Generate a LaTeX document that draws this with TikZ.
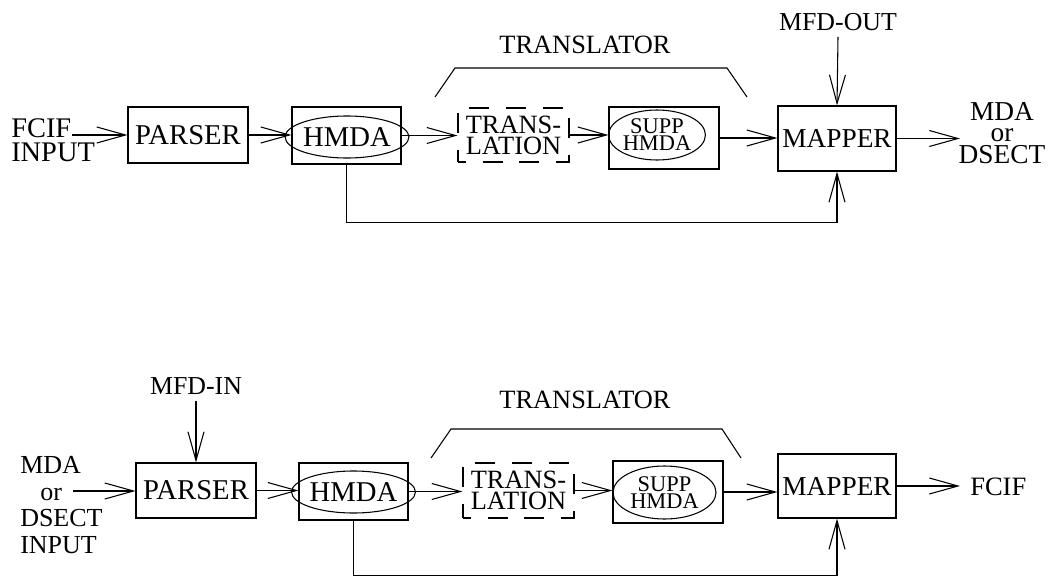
\documentclass[tikz,border=0pt]{standalone}
\usepackage{fontspec}
\setmainfont{Liberation Serif}
\usetikzlibrary{arrows.meta,shapes.geometric,calc}
\tikzset{
  base/.style={line width=0.8pt},
  arr/.style={base,-{Straight Barb[length=21.5pt,width=12pt,line width=0.8pt]}},
  boxnode/.style={draw,base,rectangle,inner sep=0pt},
  dbox/.style={draw,base,rectangle,inner sep=0pt,dash pattern=on 15pt off 12.5pt,dash phase=9pt},
  ell/.style={draw,base,ellipse,inner sep=0pt},
  big/.style={font=\fontsize{21.5}{20}\selectfont},
  tfont/.style={font=\fontsize{19.8}{15.75}\selectfont},
  sfont/.style={font=\fontsize{16.8}{12.75}\selectfont},
  lbl/.style={inner sep=0pt},
}
\begin{document}
\begin{tikzpicture}[x=0.75pt,y=-0.75pt]
\useasboundingbox (0,0) rectangle (1049,578);

% ---------------- TOP DIAGRAM ----------------
\node[lbl,align=left,anchor=west,font=\fontsize{21.3}{18}\selectfont] (fcifin) at (11,140) {FCIF\\INPUT};
\coordinate (in1) at (72,135);
\node[boxnode,big,minimum width=120*0.75pt,minimum height=56*0.75pt] (parser1) at (188,135) {PARSER};
\node[boxnode,minimum width=109*0.75pt,minimum height=57*0.75pt] (hmda1) at (346.5,135.5) {};
\node[ell,big,minimum width=104*0.75pt,minimum height=42*0.75pt] (hmdae1) at (347,137) {HMDA};
\node[dbox,align=center,tfont,minimum width=111*0.75pt,minimum height=54*0.75pt] (trans1) at (513.5,135) {TRANS-\\LATION};
\node[boxnode,minimum width=110*0.75pt,minimum height=62*0.75pt] (supp1) at (664,138) {};
\node[ell,align=center,sfont,minimum width=95*0.75pt,minimum height=50*0.75pt] (suppe1) at (657,135) {SUPP\\HMDA};
\node[boxnode,font=\fontsize{20.5}{20}\selectfont,minimum width=118*0.75pt,minimum height=65*0.75pt] (mapper1) at (837,138.5) {MAPPER};
\node[lbl,font=\fontsize{19.4}{20}\selectfont] (mfdout) at (838,22) {MFD-OUT};
\node[lbl,align=center,font=\fontsize{20.5}{16}\selectfont] (out1) at (1002,133) {MDA\\or\\DSECT};
\coordinate (o1) at (960,136);
\node[lbl,font=\fontsize{19.8}{20}\selectfont] (tr1) at (585,45) {TRANSLATOR};

\draw[arr] (in1) -- (parser1.west);
\draw[arr] (parser1.east) -- (parser1.east -| hmda1.west);
\draw[arr] (hmda1.east) -- (hmda1.east -| trans1.west);
\draw[arr] (trans1.east) -- (trans1.east -| supp1.west);
\draw[arr] (supp1.east) -- (supp1.east -| mapper1.west);
\draw[arr] (mapper1.east) -- (mapper1.east -| o1);
\draw[arr] (mfdout.south) ++(0,6) -- (mapper1.north);
\draw[arr] (hmda1.south) -- ++(0,58) -| (mapper1.south);
\draw[base] (435,97) -- (455,68) -- (727,68) -- (747,97);

% ---------------- BOTTOM DIAGRAM ----------------
\node[lbl,font=\fontsize{19.4}{20}\selectfont] (mfdin) at (196,386) {MFD-IN};
\node[lbl,align=left,anchor=west,font=\fontsize{19.5}{20}\selectfont] (mdain) at (20,505) {MDA\\\hspace*{15pt}or\\DSECT\\INPUT};
\coordinate (in2) at (73,491);
\node[boxnode,big,minimum width=120*0.75pt,minimum height=55*0.75pt] (parser2) at (196,490.5) {PARSER};
\node[boxnode,minimum width=109*0.75pt,minimum height=57*0.75pt] (hmda2) at (353.5,491.5) {};
\node[ell,big,minimum width=103*0.75pt,minimum height=42*0.75pt] (hmdae2) at (353.5,492) {HMDA};
\node[dbox,align=center,tfont,minimum width=111*0.75pt,minimum height=55*0.75pt] (trans2) at (518.5,490.5) {TRANS-\\LATION};
\node[boxnode,minimum width=110*0.75pt,minimum height=62*0.75pt] (supp2) at (668,492) {};
\node[ell,align=center,sfont,minimum width=103*0.75pt,minimum height=53*0.75pt] (suppe2) at (664.5,492.5) {SUPP\\HMDA};
\node[boxnode,font=\fontsize{20.5}{20}\selectfont,minimum width=118*0.75pt,minimum height=64*0.75pt] (mapper2) at (837,486) {MAPPER};
\node[lbl,anchor=west,font=\fontsize{19.9}{20}\selectfont] (fcifout) at (970,487) {FCIF};
\coordinate (o2) at (960,486);
\node[lbl,font=\fontsize{19.8}{20}\selectfont] (tr2) at (585,400) {TRANSLATOR};

\draw[arr] (in2) -- (in2 -| parser2.west);
\draw[arr] (mfdin.south) ++(0,6) -- (parser2.north);
\draw[arr] (parser2.east) -- (parser2.east -| hmda2.west);
\draw[arr] (hmda2.east) -- (hmda2.east -| trans2.west);
\draw[arr] (trans2.east) -- (trans2.east -| supp2.west);
\draw[arr] (supp2.east) -- (supp2.east -| mapper2.west);
\draw[arr] (mapper2.east) -- (mapper2.east -| o2);
\draw[arr] (hmda2.south) -- ++(0,55) -| (mapper2.south);
\draw[base] (431,458) -- (451,429) -- (722,429) -- (741,458);
\end{tikzpicture}
\end{document}
